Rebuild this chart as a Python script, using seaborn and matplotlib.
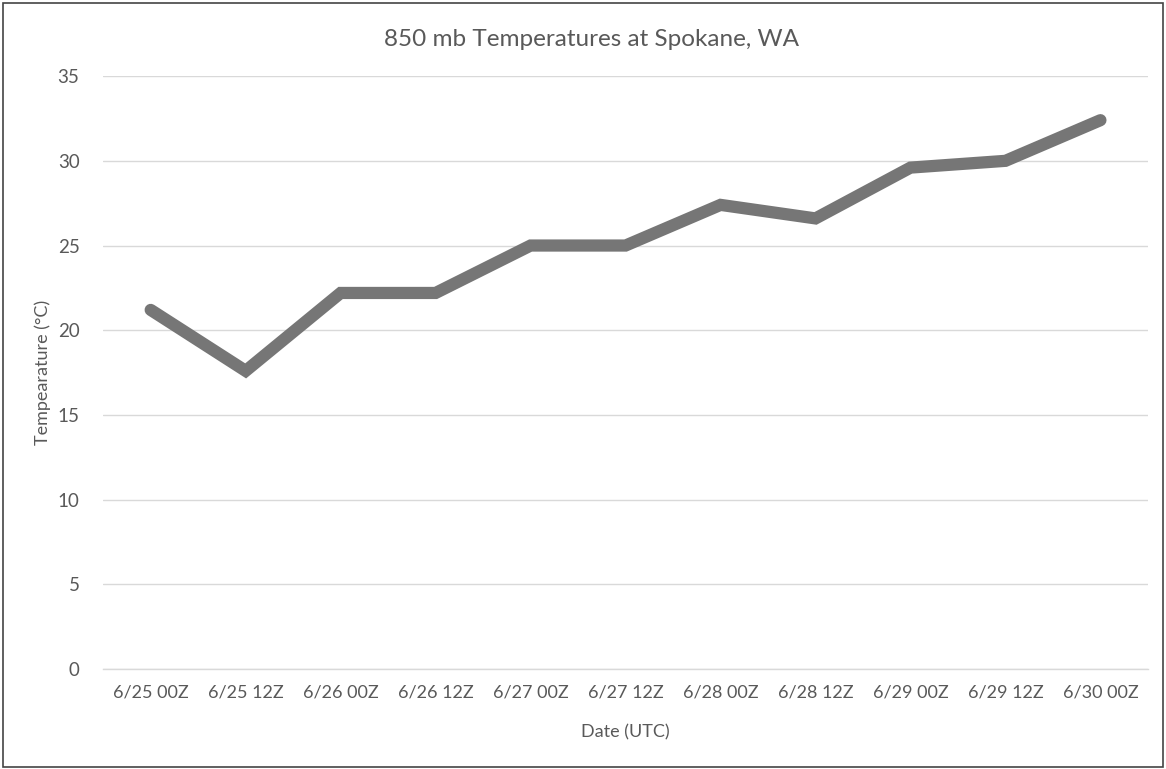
import matplotlib
matplotlib.use("Agg")
import matplotlib.pyplot as plt
from matplotlib.patches import Rectangle
import pandas as pd
import seaborn as sns

sns.set_theme(style="white")
plt.rcParams['font.family'] = ['Lato', 'DejaVu Sans']

dates = ['6/25 00Z', '6/25 12Z', '6/26 00Z', '6/26 12Z', '6/27 00Z', '6/27 12Z',
         '6/28 00Z', '6/28 12Z', '6/29 00Z', '6/29 12Z', '6/30 00Z']
temps = [21.2, 17.6, 22.2, 22.2, 25.0, 25.0, 27.4, 26.6, 29.6, 30.0, 32.4]

df = pd.DataFrame({'date': dates, 'temp': temps})
text_col = '#595959'

fig = plt.figure(figsize=(11.66, 7.69), dpi=100)
ax = fig.add_axes([0.0885, 0.130, 0.896, 0.771])

sns.lineplot(data=df, x='date', y='temp', ax=ax, color='#767676',
             linewidth=8.8, solid_capstyle='round', solid_joinstyle='miter',
             sort=False)

ax.set_xlim(-0.5, len(dates) - 0.5)
ax.set_ylim(0, 35)
ax.set_yticks(range(0, 36, 5))
ax.yaxis.grid(True, color='#d9d9d9', linewidth=1)
ax.set_axisbelow(True)
for s in ax.spines.values():
    s.set_visible(False)
ax.spines['bottom'].set_visible(True)
ax.spines['bottom'].set_color('#d9d9d9')
ax.spines['bottom'].set_linewidth(1)

ax.tick_params(axis='y', length=0, pad=17, labelsize=13.5, labelcolor=text_col)
ax.tick_params(axis='x', length=0, pad=11, labelsize=13, labelcolor=text_col)

ax.set_xlabel('Date (UTC)', fontsize=13, color=text_col, labelpad=17)
ax.set_ylabel('Tempearature (°C)', fontsize=13, color=text_col, labelpad=5)
fig.text(0.507, 0.948, '850 mb Temperatures at Spokane, WA', ha='center', va='center',
         fontsize=17.5, color=text_col)

# screenshot frame
fig.patches.append(Rectangle((0.003, 0.002), 0.994, 0.994, transform=fig.transFigure,
                             fill=False, edgecolor='#444444', linewidth=1.2))

fig.savefig('out.png', dpi=100)
